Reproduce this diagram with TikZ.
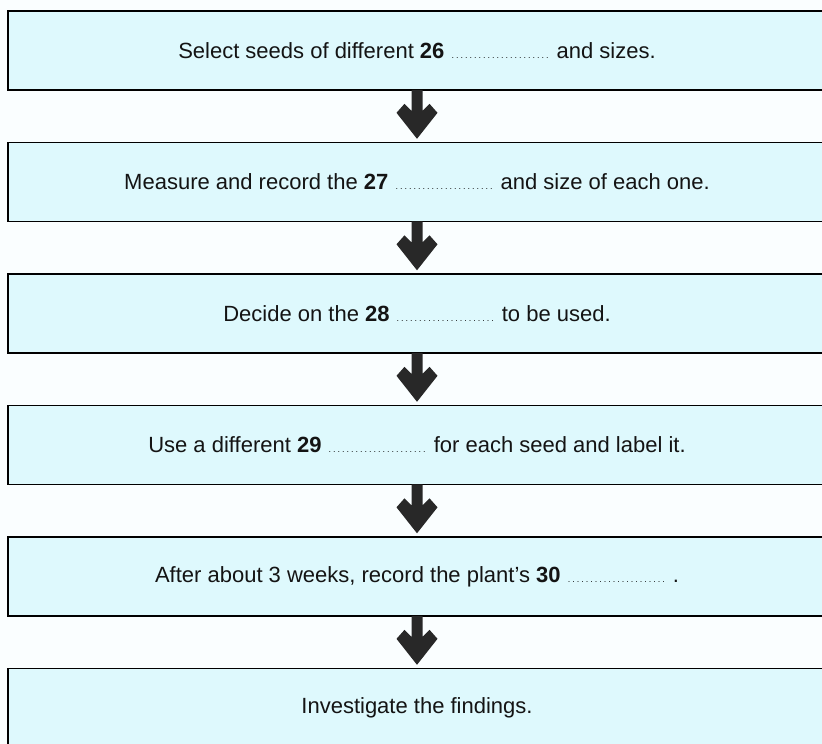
\documentclass[tikz,border=0pt]{standalone}
\usepackage{fontspec}
\setmainfont{Liberation Sans}
\usetikzlibrary{calc}
\definecolor{boxfill}{RGB}{222,249,253}
\definecolor{bgc}{RGB}{250,254,255}
\definecolor{arrowc}{RGB}{40,40,40}
\newcommand{\blankline}{\hbox to 100pt{\leaders\hbox to 4.5pt{\hss\fontsize{9}{9}\selectfont.\hss}\hfill}}
\newcommand{\fatarrow}[1]{%
  \fill[arrowc] ($(#1)+(-5.5,-1)$) -- ($(#1)+(-5.5,20)$) -- ($(#1)+(-12.5,13)$) -- ($(#1)+(-20.5,22)$)
    -- ($(#1)+(0,48)$) -- ($(#1)+(20.5,22)$) -- ($(#1)+(12.5,13)$) -- ($(#1)+(5.5,20)$) -- ($(#1)+(5.5,-1)$) -- cycle;}
\tikzset{
  stepbox/.style={draw=black, line width=1.6pt, fill=boxfill, minimum width=818pt,
    minimum height=79pt, inner sep=0pt, font=\fontsize{22}{26}\selectfont, text=black!92}
}
\begin{document}
\begin{tikzpicture}[x=1pt,y=-1pt]
\useasboundingbox (0,0) rectangle (822,744);
\clip (0,0) rectangle (822,744);
\fill[bgc] (0,0) rectangle (822,744);
\node[stepbox] (b1) at (417,50.5) {Select seeds of different \textbf{26} \blankline{} and sizes.};
\node[stepbox] (b2) at (417,182) {Measure and record the \textbf{27} \blankline{} and size of each one.};
\node[stepbox] (b3) at (417,313.5) {Decide on the \textbf{28} \blankline{} to be used.};
\node[stepbox] (b4) at (417,445) {Use a different \textbf{29} \blankline{} for each seed and label it.};
\node[stepbox] (b5) at (417,576.5) {After about 3 weeks, record the plant’s \textbf{30} \blankline{} .};
\node[stepbox] (b6) at (417,708) {Investigate the findings.};
\fatarrow{b1.south}
\fatarrow{b2.south}
\fatarrow{b3.south}
\fatarrow{b4.south}
\fatarrow{b5.south}
\end{tikzpicture}
\end{document}
